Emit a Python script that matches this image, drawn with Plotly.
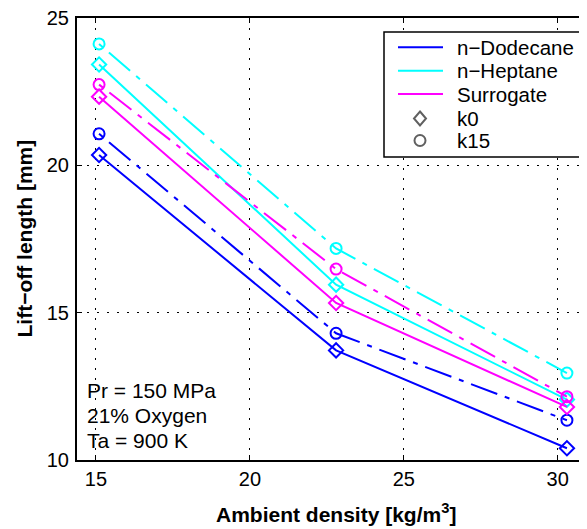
import plotly.graph_objects as go

# ---- data ----
density = [15.1, 22.8, 30.3]
dodecane_k0 = [20.35, 13.72, 10.40]
dodecane_k15 = [21.07, 14.30, 11.35]
heptane_k0 = [23.42, 15.95, 12.05]
heptane_k15 = [24.12, 17.18, 12.95]
surrogate_k0 = [22.33, 15.33, 11.80]
surrogate_k15 = [22.74, 16.48, 12.15]

fuels = ["n\u2212Dodecane", "n\u2212Heptane", "Surrogate"]
k0_series = [dodecane_k0, heptane_k0, surrogate_k0]
k15_series = [dodecane_k15, heptane_k15, surrogate_k15]
colors = ["#0000FF", "#00FFFF", "#FF00FF"]
model_labels = ["k0", "k15"]

x_ticks = [15, 20, 25, 30]
y_ticks = [10, 15, 20, 25]
conditions = ["Pr = 150 MPa", "21% Oxygen", "Ta = 900 K"]

FONT = "Liberation Sans, Arial, Helvetica, sans-serif"
# the page body adds an 8px margin, so the figure is shifted by that amount
OFF = 8
W, H = 587 - OFF, 529 - OFF
L_REF, T_REF, PLOT_RIGHT, PLOT_BOTTOM = 77, 18, 587, 460
L, T = L_REF - OFF, T_REF - OFF
R = 0
B = H - (PLOT_BOTTOM - OFF)
PW = PLOT_RIGHT - L_REF
PH = PLOT_BOTTOM - T_REF


def px(x):
    return (x - L_REF) / PW


def py(y):
    return (PLOT_BOTTOM - y) / PH


DASHDOT = "5px,8px,28px,8px"

fig = go.Figure()
for name, k0, k15, c in zip(fuels, k0_series, k15_series, colors):
    fig.add_trace(go.Scatter(
        x=density, y=k0, mode="lines+markers", name=name + " k0",
        line=dict(color=c, width=2),
        marker=dict(symbol="diamond-open", size=11, color=c, line=dict(width=2, color=c)),
        showlegend=False))
    fig.add_trace(go.Scatter(
        x=density, y=k15, mode="lines+markers", name=name + " k15",
        line=dict(color=c, width=2, dash=DASHDOT),
        marker=dict(symbol="circle-open", size=11, color=c, line=dict(width=2, color=c)),
        showlegend=False))

axis_common = dict(
    showgrid=True, gridcolor="black", gridwidth=1, griddash="2px,8px",
    showline=True, linecolor="black", linewidth=2,
    ticks="inside", ticklen=5, tickwidth=1, tickcolor="black",
    zeroline=False, tickfont=dict(family=FONT, size=20, color="black"),
    ticklabeloverflow="allow",
)

fig.update_xaxes(range=[14.383, 30.952], tickvals=x_ticks, mirror="allticks", **axis_common)
fig.update_yaxes(range=[10, 25], tickvals=y_ticks, mirror=False, ticklabelstandoff=2, **axis_common)

shapes = []
annotations = []

# axis titles
annotations.append(dict(
    text="<b>Ambient density [kg/m<sup>3</sup>]</b>", xref="paper", yref="paper",
    x=px(336), y=py(513), xanchor="center", yanchor="middle", showarrow=False,
    font=dict(family=FONT, size=21, color="black")))
annotations.append(dict(
    text="<b>Lift\u2212off length [mm]</b>", xref="paper", yref="paper",
    x=px(23.5), y=py(239), xanchor="center", yanchor="middle", showarrow=False,
    textangle=-90, font=dict(family=FONT, size=21, color="black")))

# condition text
for txt, yc in zip(conditions, [390, 415, 440]):
    annotations.append(dict(
        text=txt, xref="paper", yref="paper", x=px(85), y=py(yc),
        xanchor="left", yanchor="middle", showarrow=False,
        font=dict(family=FONT, size=21, color="black")))

# legend box (drawn manually)
shapes.append(dict(type="rect", xref="paper", yref="paper",
                   x0=px(384), x1=px(600), y0=py(157), y1=py(32),
                   line=dict(color="black", width=1.5), fillcolor="white", layer="above"))
rows = [47.3, 70.7, 94.0, 118.5, 140.5]
for name, c, yr in zip(fuels, colors, rows[:3]):
    shapes.append(dict(type="line", xref="paper", yref="paper",
                       x0=px(398), x1=px(443), y0=py(yr), y1=py(yr),
                       line=dict(color=c, width=2), layer="above"))
    annotations.append(dict(text=name, xref="paper", yref="paper", x=px(455), y=py(yr),
                            xanchor="left", yanchor="middle", showarrow=False,
                            font=dict(family=FONT, size=20.5, color="black")))
gray = "#606060"
shapes.append(dict(type="path", xref="paper", yref="paper", xsizemode="pixel", ysizemode="pixel",
                   xanchor=px(420), yanchor=py(rows[3]),
                   path="M 0,7 L 6,0 L 0,-7 L -6,0 Z", line=dict(color=gray, width=2), layer="above"))
shapes.append(dict(type="circle", xref="paper", yref="paper", xsizemode="pixel", ysizemode="pixel",
                   xanchor=px(420), yanchor=py(rows[4]), x0=-5.5, x1=5.5, y0=-5.5, y1=5.5,
                   line=dict(color=gray, width=2), layer="above"))
for lab, yr in zip(model_labels, rows[3:]):
    annotations.append(dict(text=lab, xref="paper", yref="paper", x=px(455), y=py(yr),
                            xanchor="left", yanchor="middle", showarrow=False,
                            font=dict(family=FONT, size=20.5, color="black")))

fig.update_layout(
    width=W, height=H, margin=dict(l=L, r=R, t=T, b=B, pad=0),
    plot_bgcolor="white", paper_bgcolor="white", showlegend=False,
    shapes=shapes, annotations=annotations,
    font=dict(family=FONT, color="black"),
)

fig.write_html("out.html")
